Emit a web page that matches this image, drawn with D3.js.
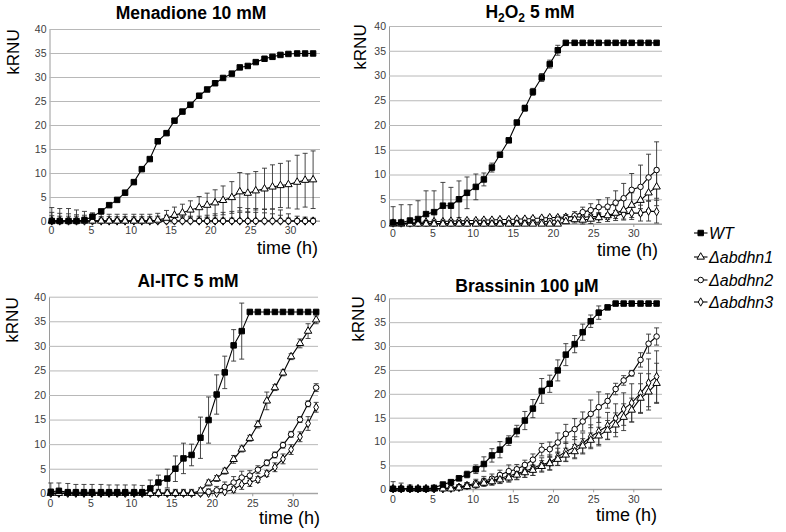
<!DOCTYPE html>
<html>
<head>
<meta charset="utf-8">
<script src="https://cdn.jsdelivr.net/npm/d3@7"></script>
<style>
body{margin:0;background:#fff}
svg{display:block}
</style>
</head>
<body>
<script>
// sampling times (h), same for every panel
var hours = [0.1,1.1,2.2,3.2,4.2,5.2,6.3,7.3,8.3,9.3,10.4,11.4,12.4,13.4,14.5,15.5,16.5,17.5,18.6,19.6,20.6,21.6,22.7,23.7,24.7,25.7,26.8,27.8,28.8,29.8,30.9,31.9,32.9]

var xTicks = [0,5,10,15,20,25,30]
var yTicks = [0,5,10,15,20,25,30,35,40]
var seriesNames = ["WT","Δabdhn1","Δabdhn2","Δabdhn3"]

// Menadione 10 mM
var menWT = [0,0,0,0,0.2,0.9,2.0,3.3,4.4,5.9,8.1,10.8,12.9,16.6,18.3,20.9,22.8,24.2,26.1,27.4,28.7,29.8,30.7,32.0,32.3,33.1,33.8,34.2,34.6,34.8,34.9,34.9,34.9]
var menWTsd = [0.3,0.3,0.3,0.3,0.3,0.3,0.3,0.3,0.3,0.3,0.3,0.3,0.3,0.3,0.3,0.3,0.3,0.3,0.3,0.3,0.3,0.3,0.3,0.3,0.3,0.3,0.3,0.3,0.3,0.3,0.3,0.3,0.3]
var menD1 = [0,0,0,0,0,0,0,0,0,0,0,0,0,0.2,0.6,1.2,1.7,2.3,2.8,3.3,3.8,4.3,4.9,6.1,5.8,6.3,6.7,7.1,7.4,7.6,8.1,8.5,8.6]
var menD1sd = [2.8,2.6,2.6,2.3,2.0,1.7,1.5,1.4,1.4,1.4,1.4,1.4,1.4,1.4,1.6,1.7,1.8,1.9,2.3,2.5,2.7,3.0,3.3,4.0,4.0,4.0,4.3,4.6,4.6,4.9,5.6,5.6,6.0]
var menD2 = [0,0,0,0,0,0,0,0,0,0,0,0,0,0,0,0,0,0,0,0,0,0,0,0,0,0,0,0,0,0,0,0,0]
var menD2sd = [1.8,1.6,1.5,1.3,1.2,1.0,0.9,0.9,0.9,0.9,0.9,0.9,0.9,1.0,1.2,1.0,1.0,1.0,1.0,1.2,1.5,1.8,2.0,2.8,2.6,2.6,2.5,2.5,2.3,1.5,1.0,0.8,0.6]
var menD3 = [0,0,0,0,0,0,0,0,0,0,0,0,0,0,0,0,0,0,0,0,0,0,0,0,0,0,0,0,0,0,0,0,0]
var menD3sd = [1.1,1.0,1.0,1.0,0.8,0.7,0.6,0.5,0.6,0.6,0.6,0.6,0.6,0.6,0.8,0.8,0.8,0.8,0.6,0.6,0.6,0.6,0.6,1.8,1.9,1.8,1.7,1.5,1.2,0.6,0.5,0.5,0.5]

// H2O2 5 mM
var h2WT = [0.3,0.3,0.7,1.0,2.0,2.4,3.7,3.7,5.0,6.3,7.5,9.0,11.4,14.0,16.9,20.5,23.4,26.7,29.6,32.3,35.1,36.6,36.6,36.6,36.6,36.6,36.6,36.6,36.6,36.6,36.6,36.6,36.6]
var h2WTsd = [3.2,3.6,3.2,3.7,4.7,4.3,4.7,3.7,3.7,3.2,2.6,1.3,0.9,0.4,0.4,0.4,0.6,0.7,0.8,0.8,1.0,0.2,0.2,0.2,0.2,0.2,0.2,0.2,0.2,0.2,0.2,0.2,0.2]
var h2D1 = [0,0,0,0,0,0,0,0,0,0,0,0,0,0,0,0,0,0,0,0,0,0.5,0.9,0.8,1.0,1.3,1.7,2.2,2.8,3.8,4.8,6.3,7.5]
var h2D1sd = [0.5,0.5,0.5,0.5,0.5,0.5,0.5,0.5,0.5,0.5,0.5,0.5,0.5,0.5,0.5,0.5,0.5,0.5,0.5,0.5,0.5,0.6,0.7,0.8,0.9,1.0,1.2,1.5,2.0,2.5,3.0,3.4,3.8]
var h2D2 = [0.1,0.1,0.1,0.1,0.1,0.1,0.1,0.1,0.1,0.1,0.1,0.1,0.1,0.1,0.1,0.1,0.2,0.3,0.4,0.6,0.9,1.2,1.7,2.4,2.8,3.4,3.5,4.3,5.2,6.9,7.5,9.4,10.9]
var h2D2sd = [0.3,0.3,0.3,0.3,0.3,0.3,0.3,0.3,0.3,0.3,0.3,0.3,0.3,0.3,0.3,0.3,0.3,0.3,0.4,0.5,0.6,0.7,0.8,1.0,1.3,1.5,1.8,2.4,3.0,3.3,4.4,4.7,5.7]
var h2D3 = [0.2,0.2,0.2,0.3,0.4,0.5,0.5,0.6,0.6,0.7,0.7,0.8,0.8,0.9,0.9,1.0,1.0,1.1,1.2,1.3,1.3,1.4,1.5,1.3,1.5,1.5,1.5,1.9,2.0,2.2,2.2,2.6,2.5]
var h2D3sd = [0.3,0.3,0.3,0.3,0.3,0.3,0.3,0.3,0.3,0.3,0.3,0.3,0.3,0.3,0.3,0.3,0.3,0.3,0.3,0.3,0.3,0.4,0.4,0.5,0.5,0.6,0.6,0.8,1.0,1.3,1.6,2.0,2.3]

// Al-ITC 5 mM
var alWT = [0.3,0.5,0.2,0.2,0.2,0.2,0.2,0.2,0.2,0.2,0.2,0.2,1.0,2.2,3.0,5.0,7.1,7.8,11.3,14.9,20.1,24.6,30.1,33.0,36.9,36.9,36.9,36.9,36.9,36.9,36.9,36.9,36.9]
var alWTsd = [1.8,1.6,1.8,1.6,1.6,1.6,1.6,1.5,1.5,1.5,1.5,1.4,1.7,1.5,1.9,2.6,3.1,2.2,4.2,4.7,4.0,3.3,3.2,5.7,0,0,0,0,0,0,0,0,0]
var alD1 = [0,0,0,0,0,0,0,0,0,0,0,0,0,0,0,0,0,0,0.5,2.1,3.0,4.5,6.9,9.0,11.2,14.0,18.8,21.5,24.5,27.8,30.5,33.0,35.3]
var alD1sd = [0.8,0.8,0.8,0.8,0.8,0.8,0.8,0.8,0.8,0.8,0.8,0.8,0.8,0.8,0.8,0.8,0.8,0.8,0.6,0.6,0.6,0.6,0.8,0.6,0.6,0.7,1.8,0.6,0.6,0.6,0.9,1.5,0.8]
var alD2 = [0,0,0,0,0,0,0,0,0,0,0,0,0,0,0,0,0,0,0,0.3,0.6,1.3,2.2,3.2,3.6,4.8,6.2,7.8,9.8,12.0,15.0,18.2,21.5]
var alD2sd = [0.6,0.6,0.6,0.6,0.6,0.6,0.6,0.6,0.6,0.6,0.6,0.6,0.6,0.6,0.6,0.6,0.6,0.6,0.6,0.6,0.8,1.0,1.2,1.3,1.0,0.8,0.6,0.6,0.6,0.6,0.6,0.6,0.8]
var alD3 = [0,0,0,0,0,0,0,0,0,0,0,0,0,0,0,0,0,0,0,0,0,0.3,0.8,1.8,2.2,2.8,4.0,5.3,7.0,8.9,11.5,14.2,17.5]
var alD3sd = [0.4,0.4,0.4,0.4,0.4,0.4,0.4,0.4,0.4,0.4,0.4,0.4,0.4,0.4,0.4,0.4,0.4,0.4,0.4,0.4,0.4,0.5,0.6,1.0,0.8,0.6,0.6,0.9,1.0,1.0,1.0,1.4,1.0]

// Brassinin 100 µM
var brWT = [0.1,0.1,0.1,0.1,0.1,0.3,1.0,1.5,2.3,3.1,4.2,5.3,7.1,8.3,10.2,12.2,14.4,16.9,20.6,22.1,24.9,28.2,30.4,32.9,35.2,37.0,38.1,38.9,38.9,38.9,38.9,38.9,38.9]
var brWTsd = [1.5,1.2,0.8,0.3,0.3,0.3,0.3,0.3,0.5,0.7,0.9,1.5,1.4,1.7,1.0,1.2,1.9,1.9,2.6,1.8,2.2,2.3,1.8,1.7,1.3,1.4,0.4,0,0,0,0,0,0]
var brD1 = [0.1,0.1,0.1,0.1,0.1,0.1,0.1,0.1,0.3,0.6,0.9,1.3,1.6,2.0,2.4,3.0,3.5,4.0,4.8,5.4,6.3,7.2,7.9,9.1,10.3,11.2,12.4,13.5,15.1,16.6,19.1,20.4,22.2]
var brD1sd = [0.4,0.4,0.4,0.4,0.4,0.4,0.4,0.4,0.4,0.5,0.5,0.6,0.7,0.8,0.9,1.0,1.0,1.1,1.2,1.3,1.3,1.4,1.5,1.5,1.5,1.8,2.0,2.5,2.8,2.5,3.0,3.8,4.2]
var brD2 = [0.1,0.1,0.1,0.1,0.1,0.1,0.2,0.3,0.5,0.8,1.3,1.7,2.2,3.0,3.8,4.2,5.1,6.2,8.3,8.4,9.8,11.6,12.6,14.2,15.8,17.2,18.5,21.0,22.8,24.3,27.1,30.5,32.0]
var brD2sd = [0.5,0.5,0.5,0.4,0.4,0.4,0.4,0.4,0.5,0.6,0.8,1.0,1.0,1.0,1.3,1.0,1.0,1.2,1.3,1.5,2.0,2.0,2.2,2.0,2.9,3.2,1.5,1.2,1.0,0.6,1.5,2.0,1.8]
var brD3 = [0.1,0.1,0.1,0.1,0.1,0.1,0.1,0.2,0.4,0.8,1.0,1.5,1.8,2.3,2.8,3.3,3.8,4.4,5.2,5.6,6.8,7.9,8.8,9.6,11.0,12.1,13.3,14.9,16.8,18.1,20.1,22.3,23.6]
var brD3sd = [0.4,0.4,0.4,0.4,0.4,0.4,0.4,0.4,0.5,0.6,0.7,0.8,0.9,1.0,1.1,1.2,1.3,1.5,1.4,1.6,1.8,2.0,2.2,2.2,2.5,3.0,2.8,3.0,3.4,4.0,4.2,5.0,5.4]

var fontFam = "'Liberation Sans', Arial, sans-serif"
var svg = d3.select("body").append("svg")
  .attr("width", 786)
  .attr("height", 532)
  .style("font-family", fontFam)

var markers = [d3.symbolSquare, d3.symbolTriangle, d3.symbolCircle, d3.symbolDiamond]
var markerSize = [30, 24, 24, 20]
var markerFill = ["#000", "#fff", "#fff", "#fff"]

var panels = [
  {title: "Menadione 10 mM", data: [[menWT,menWTsd],[menD1,menD1sd],[menD2,menD2sd],[menD3,menD3sd]],
   left: 49.5, x0: 51, x30: 290, right: 320, top: 29, bottom: 221,
   titleX: 191, titleY: 19, labX: 13, labY: 52, timeX: 318, timeY: 254},
  {title: "H2O2", data: [[h2WT,h2WTsd],[h2D1,h2D1sd],[h2D2,h2D2sd],[h2D3,h2D3sd]],
   left: 389, x0: 392.3, x30: 633.3, right: 662, top: 26, bottom: 224,
   titleX: 530, titleY: 18, labX: 360, labY: 47, timeX: 658, timeY: 256},
  {title: "Al-ITC 5 mM", data: [[alWT,alWTsd],[alD1,alD1sd],[alD2,alD2sd],[alD3,alD3sd]],
   left: 49, x0: 50, x30: 292.7, right: 318, top: 296.7, bottom: 493.3,
   titleX: 188, titleY: 287, labX: 12, labY: 320, timeX: 320, timeY: 524},
  {title: "Brassinin 100 µM", data: [[brWT,brWTsd],[brD1,brD1sd],[brD2,brD2sd],[brD3,brD3sd]],
   left: 389, x0: 392.3, x30: 633.3, right: 662, top: 298.3, bottom: 489.3,
   titleX: 527, titleY: 292, labX: 358, labY: 319, timeX: 657, timeY: 521}
]

function RysujPanel(p) {
  var g = svg.append("g")
  var x = d3.scaleLinear().domain([0, 30]).range([p.x0, p.x30])
  var y = d3.scaleLinear().domain([0, 40]).range([p.bottom, p.top])

  // y axis with grid lines
  var ay = g.append("g")
    .attr("transform", "translate(" + p.left + ",0)")
    .call(d3.axisLeft(y).tickValues(yTicks).tickSize(-(p.right - p.left)).tickSizeOuter(0).tickPadding(3))
  ay.select(".domain").attr("stroke", "#9a9a9a")
  ay.selectAll(".tick line").attr("stroke", "#b8b8b8")
  ay.selectAll(".tick text").attr("fill", "#404040").style("font-size", "10.5px").style("font-family", fontFam)

  var ax = g.append("g")
    .attr("transform", "translate(0," + p.bottom + ")")
    .call(d3.axisBottom(x).tickValues(xTicks).tickSize(3).tickSizeOuter(0).tickPadding(3))
  ax.select(".domain").remove()
  ax.selectAll(".tick line").attr("stroke", "#9a9a9a")
  ax.selectAll(".tick text").attr("fill", "#404040").style("font-size", "10.5px").style("font-family", fontFam)
  g.append("line")
    .attr("x1", p.left).attr("x2", p.right)
    .attr("y1", p.bottom).attr("y2", p.bottom)
    .attr("stroke", "#9a9a9a")

  // error bars
  p.data.slice().reverse().forEach(function(s) {
    var vals = s[0], sd = s[1]
    var eb = g.append("g").attr("stroke", "#333").attr("stroke-width", 0.9)
    vals.forEach(function(v, i) {
      if (sd[i] <= 0) return
      var hi = Math.min(40, v + sd[i]), lo = Math.max(0, v - sd[i])
      var cx = x(hours[i])
      eb.append("line").attr("x1", cx).attr("x2", cx).attr("y1", y(lo)).attr("y2", y(hi))
      if (v + sd[i] <= 40)
        eb.append("line").attr("x1", cx - 2.5).attr("x2", cx + 2.5).attr("y1", y(hi)).attr("y2", y(hi))
      if (v - sd[i] >= 0)
        eb.append("line").attr("x1", cx - 2.5).attr("x2", cx + 2.5).attr("y1", y(lo)).attr("y2", y(lo))
    })
  })

  // lines and markers, WT on top
  var linia = d3.line().x(function(d, i) { return x(hours[i]) }).y(function(d) { return y(d) })
  for (var k = 3; k >= 0; k--) {
    var vals = p.data[k][0]
    g.append("path").datum(vals)
      .attr("d", linia)
      .attr("fill", "none")
      .attr("stroke", "#000")
      .attr("stroke-width", 1.1)
    g.append("g").selectAll("path").data(vals).enter().append("path")
      .attr("transform", function(d, i) { return "translate(" + x(hours[i]) + "," + y(d) + ")" })
      .attr("d", d3.symbol().type(markers[k]).size(markerSize[k]))
      .attr("fill", markerFill[k])
      .attr("stroke", "#000")
      .attr("stroke-width", 1)
  }

  // title
  var t = svg.append("text")
    .attr("x", p.titleX).attr("y", p.titleY)
    .attr("text-anchor", "middle")
    .style("font-size", "17.5px").style("font-weight", "bold")
  if (p.title === "H2O2") {
    t.append("tspan").text("H")
    t.append("tspan").text("2").attr("dy", 4).style("font-size", "12px")
    t.append("tspan").text("O").attr("dy", -4)
    t.append("tspan").text("2").attr("dy", 4).style("font-size", "12px")
    t.append("tspan").text(" 5 mM").attr("dy", -4)
  } else {
    t.text(p.title)
  }

  svg.append("text")
    .attr("transform", "translate(" + p.labX + "," + p.labY + ") rotate(-90)")
    .attr("text-anchor", "middle")
    .attr("dy", "0.35em")
    .style("font-size", "17px")
    .text("kRNU")

  svg.append("text")
    .attr("x", p.timeX).attr("y", p.timeY)
    .attr("text-anchor", "end")
    .style("font-size", "18px")
    .text("time (h)")
}

panels.forEach(RysujPanel)

// legend
var legY = [233, 257, 280, 302]
var leg = svg.append("g")
seriesNames.forEach(function(n, k) {
  leg.append("line")
    .attr("x1", 694).attr("x2", 707.5)
    .attr("y1", legY[k]).attr("y2", legY[k])
    .attr("stroke", "#000").attr("stroke-width", 1.1)
  leg.append("path")
    .attr("transform", "translate(700.7," + legY[k] + ")")
    .attr("d", d3.symbol().type(markers[k]).size(markerSize[k]))
    .attr("fill", markerFill[k])
    .attr("stroke", "#000")
  leg.append("text")
    .attr("x", 709).attr("y", legY[k] + 5.6)
    .style("font-size", "16px")
    .style("font-style", "italic")
    .text(n)
})
</script>
</body>
</html>
